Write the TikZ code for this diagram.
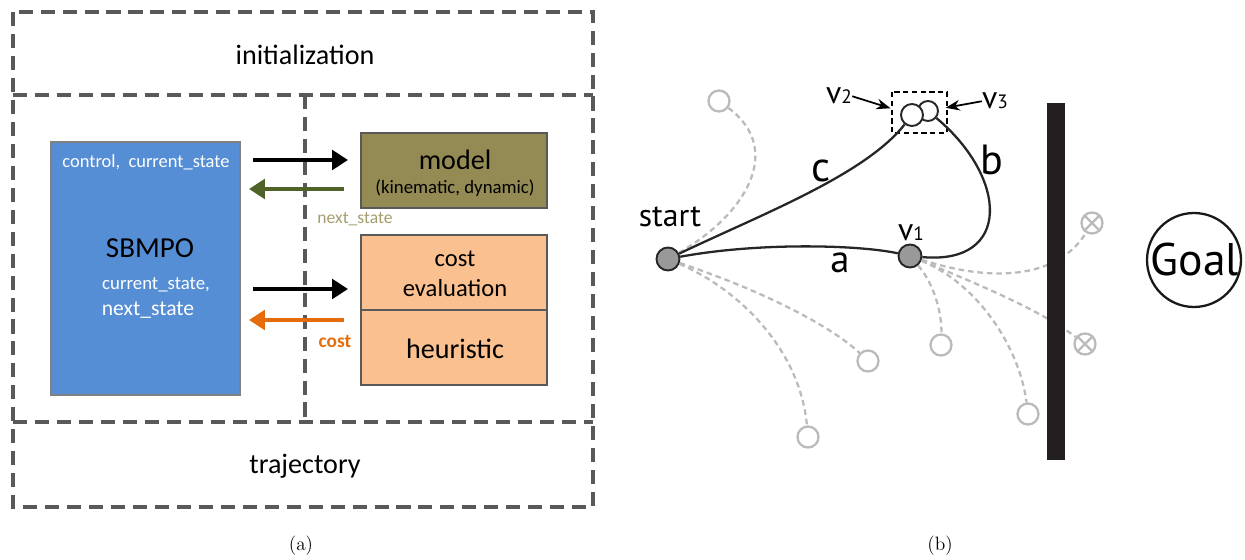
\documentclass[tikz,border=0pt]{standalone}
\usepackage{fontspec}
\newfontfamily\calf{Carlito}
\newfontfamily\myr{PT Sans}
\usetikzlibrary{arrows.meta,calc}
\definecolor{frame}{HTML}{595959}
\definecolor{sbblue}{HTML}{558ED5}
\definecolor{olivebox}{HTML}{948A54}
\definecolor{peach}{HTML}{FAC090}
\definecolor{greenarr}{HTML}{4F6228}
\definecolor{orangearr}{HTML}{E46C0A}
\definecolor{khaki}{HTML}{A39D6B}
\definecolor{lgray}{HTML}{BBBBBB}
\definecolor{nodegray}{HTML}{999999}
\definecolor{wallc}{HTML}{231F20}
\newcommand\myfs[1]{\fontsize{#1}{#1}\selectfont}
\tikzset{
  dashframe/.style={draw=frame, line width=2pt, dash pattern=on 8pt off 4.5pt},
  boxa/.style={draw=frame, line width=1.6pt, minimum width=3.72cm, minimum height=1.5cm, inner sep=0pt},
  fatarrow/.style={line width=2.6pt, -{Triangle[length=9pt,width=11pt]}},
  txt/.style={inner sep=0pt, font=\calf},
  lab/.style={inner sep=0pt, font=\myr},
  gdash/.style={draw=lgray, line width=1.3pt, dash pattern=on 3.2pt off 2.2pt},
  gcirc/.style={circle, draw=lgray, line width=1.3pt, fill=white, minimum size=0.42cm, inner sep=0pt},
  blackdot/.style={circle, draw=black!85, line width=1.1pt, fill=nodegray, minimum size=0.46cm, inner sep=0pt},
  opendot/.style={circle, draw=black!85, line width=1.1pt, fill=white, inner sep=0pt},
  curve/.style={draw=black!85, line width=1.3pt},
  pointer/.style={draw=black, line width=1pt, -{Stealth[length=8pt,width=6pt]}}
}
\begin{document}
\begin{tikzpicture}[x=0.02cm,y=-0.02cm]
\useasboundingbox (0,0) rectangle (1245,560);
% ---------------- panel (a) ----------------
\draw[dashframe] (13,12) rectangle (593,507);
\draw[dashframe] (13,95) -- (593,95);
\draw[dashframe] (13,422) -- (593,422);
\draw[dashframe] (305,95) -- (305,422);
\node[txt] (init) at (305,55) {\myfs{16}initialization};
\node[txt] (traj) at (305,466) {\myfs{16}trajectory};

\node[draw=gray, line width=1pt, fill=sbblue, minimum width=3.78cm, minimum height=5.06cm, inner sep=0pt] (sbmpo) at (145.5,268.5) {};
\node[txt, text=white] (ctl) at (146,162) {\myfs{10.5}control,\ \ current\_state};
\node[txt] (sbname) at (150,248) {\myfs{16.5}SBMPO};
\node[txt, text=white] (cs) at (156,285) {\myfs{10.7}current\_state,};
\node[txt, text=white] (ns) at (148,310) {\myfs{12.3}next\_state};

\node[boxa, fill=olivebox] (model) at (454,170.5) {};
\node[txt] (modelt) at (455,160) {\myfs{16}model};
\node[txt] (modeld) at (455,188) {\myfs{10.7}(kinematic, dynamic)};
\node[boxa, fill=peach] (cost) at (454,272.5) {};
\node[txt] (costt1) at (455,259) {\myfs{14}cost};
\node[txt] (costt2) at (455,288) {\myfs{14}evaluation};
\node[boxa, fill=peach] (heur) at (454,347.5) {};
\node[txt] (heurt) at (455,349) {\myfs{16}heuristic};

\coordinate (p1s) at (253,160); \coordinate (p1e) at (348,160);
\coordinate (p2s) at (344,189); \coordinate (p2e) at (249,189);
\coordinate (p3s) at (253,289); \coordinate (p3e) at (348,289);
\coordinate (p4s) at (344,320); \coordinate (p4e) at (249,320);
\draw[fatarrow, black] (p1s) -- (p1e);
\draw[fatarrow, greenarr] (p2s) -- (p2e);
\draw[fatarrow, black] (p3s) -- (p3e);
\draw[fatarrow, orangearr] (p4s) -- (p4e);
\node[txt, text=khaki] (nsl) at (355,219) {\myfs{10}next\_state};
\node[txt, text=orangearr] (costl) at (335,341) {\myfs{11}\bfseries cost};
\node[inner sep=0pt] (capa) at (301,546) {\fontsize{11}{13}\selectfont (a)};

% ---------------- panel (b) ----------------
\node[blackdot] (start) at (668,259) {};
\node[blackdot] (v1) at (910,256) {};
\node[gcirc] (g1) at (719,101) {};
\node[gcirc] (g5) at (868,361) {};
\node[gcirc] (g6) at (808,437) {};
\node[gcirc] (g4) at (941,345) {};
\node[gcirc] (g3) at (1028,414) {};
\node[gcirc] (x1) at (1092,223) {};
\node[gcirc] (x2) at (1085,344) {};
\draw[lgray, line width=1.3pt] (x1.north east) -- (x1.south west) (x1.north west) -- (x1.south east);
\draw[lgray, line width=1.3pt] (x2.north east) -- (x2.south west) (x2.north west) -- (x2.south east);

\draw[gdash] (start) .. controls (745,215) and (785,150) .. (g1);
\draw[gdash] (start) .. controls (760,290) and (830,325) .. (g5);
\draw[gdash] (start) .. controls (740,290) and (800,350) .. (g6);
\draw[gdash] (v1) .. controls (935,285) and (942,315) .. (g4);
\draw[gdash] (v1) .. controls (980,285) and (1020,350) .. (g3);
\draw[gdash] (v1) .. controls (1000,285) and (1060,275) .. (x1);
\draw[gdash] (v1) .. controls (980,285) and (1040,310) .. (x2);

\fill[wallc] (1047,103) rectangle (1065,460);

\node[opendot, minimum size=0.4cm] (v3) at (928,111) {};
\node[opendot, minimum size=0.44cm] (v2) at (912,115) {};
\draw[draw=black, line width=1.1pt, dash pattern=on 3pt off 2pt] (892,92) rectangle (947,133);

\draw[curve] (start) .. controls (760,242) and (860,245) .. (v1);
\draw[curve] (start) .. controls (760,215) and (865,175) .. (v2);
\draw[curve] (v1) .. controls (1012,265) and (1008,178) .. (v3);

\node[lab] (startl) at (670,217) {\myfs{18}start};
\node[lab] (la) at (840,263) {\myfs{22}a};
\node[lab] (lc) at (821,171) {\myfs{24}c};
\node[lab] (lb) at (992,160) {\myfs{24}b};
\node[lab, anchor=base] (v1l) at (911,241) {\myfs{18}v\myfs{11}1};
\node[lab, anchor=base] (v2l) at (839,104) {\myfs{18}v\myfs{11}2};
\node[lab, anchor=base] (v3l) at (995,109) {\myfs{18}v\myfs{11}3};
\draw[pointer, shorten >=6pt] (v2l.east) -- (v2);
\draw[pointer, shorten >=4pt] (v3l.west) -- (v3);

\node[circle, draw=black!90, line width=1.3pt, minimum size=1.88cm, inner sep=0pt] (goal) at (1194,260) {};
\node[lab] (goalt) at (1195,260) {\myfs{26}Goal};
\node[inner sep=0pt] (capb) at (940,546) {\fontsize{11}{13}\selectfont (b)};
\end{tikzpicture}
\end{document}
